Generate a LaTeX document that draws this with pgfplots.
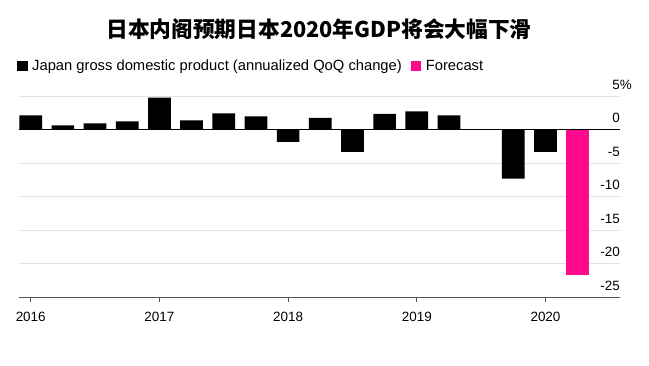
\documentclass[border=0pt]{standalone}
\usepackage{fontspec}
\setmainfont{Liberation Sans}
\newfontfamily\cjk{Noto Sans CJK SC}
\usepackage{pgfplots}
\pgfplotsset{compat=1.18}
\definecolor{fc}{HTML}{FF0A8C}
\definecolor{gridc}{HTML}{E3E3E3}
\definecolor{axc}{HTML}{555555}

\begin{document}
\begin{tikzpicture}
\path[use as bounding box] (0bp,0bp) rectangle (649bp,-366bp);
\node[font=\cjk\bfseries\fontsize{21.8}{25}\selectfont] at (319bp,-29bp) {日本内阁预期日本2020年GDP将会大幅下滑};
\begin{axis}[
  at={(19bp,-297bp)}, anchor=south west, scale only axis,
  width=601bp, height=201bp,
  xmin=2015.909, xmax=2020.579,
  ymin=-25, ymax=5,
  ybar, bar width=22.7bp, bar shift=0pt,
  axis x line*=bottom, axis y line*=right,
  x axis line style={axc, line width=0.9bp, -},
  y axis line style={draw=none},
  xtick={2016,2017,2018,2019,2020},
  xticklabels={2016,2017,2018,2019,2020},
  xtick style={axc, line width=0.7bp},
  xtick align=outside, major tick length=5bp,
  xticklabel style={font=\fontsize{13.5}{16}\selectfont, anchor=north, yshift=-7bp},
  ytick={-25,-20,-15,-10,-5,0,5},
  yticklabels={-25,-20,-15,-10,-5,0,5\rlap{\%}},
  yticklabel pos=right,
  ytick style={draw=none},
  yticklabel style={font=\fontsize{13.5}{16}\selectfont, anchor=base east, inner sep=0pt, xshift=0bp, yshift=7bp},
  ymajorgrids, major grid style={gridc, line width=0.9bp},
  extra y ticks={0}, extra y tick labels={},
  extra y tick style={ymajorgrids=true, major grid style={black, line width=0.8bp}},
  legend style={at={(axis description cs:0,1)}, anchor=west, xshift=-2bp, yshift=30bp,
    draw=none, fill=none, inner sep=0pt, font=\fontsize{14.8}{17}\selectfont,
    legend columns=2, /tikz/every even column/.append style={column sep=7bp}},
  legend image code/.code={\fill[#1] (0bp,-4.8bp) rectangle (10.5bp,4.8bp); \path (13bp,0bp);},
]
\addplot[fill=black, draw=none] coordinates {
  (2016.00,2.1) (2016.25,0.6) (2016.50,0.9) (2016.75,1.2)
  (2017.00,4.75) (2017.25,1.35) (2017.50,2.4) (2017.75,1.95)
  (2018.00,-1.85) (2018.25,1.75) (2018.50,-3.35) (2018.75,2.35)
  (2019.00,2.7) (2019.25,2.1) (2019.50,0.0) (2019.75,-7.35)
  (2020.00,-3.35)
};
\addlegendentry{Japan gross domestic product (annualized QoQ change)}
\addplot[fill=fc, draw=none] coordinates {(2020.25,-21.65)};
\addlegendentry{Forecast}
\end{axis}
\end{tikzpicture}
\end{document}
